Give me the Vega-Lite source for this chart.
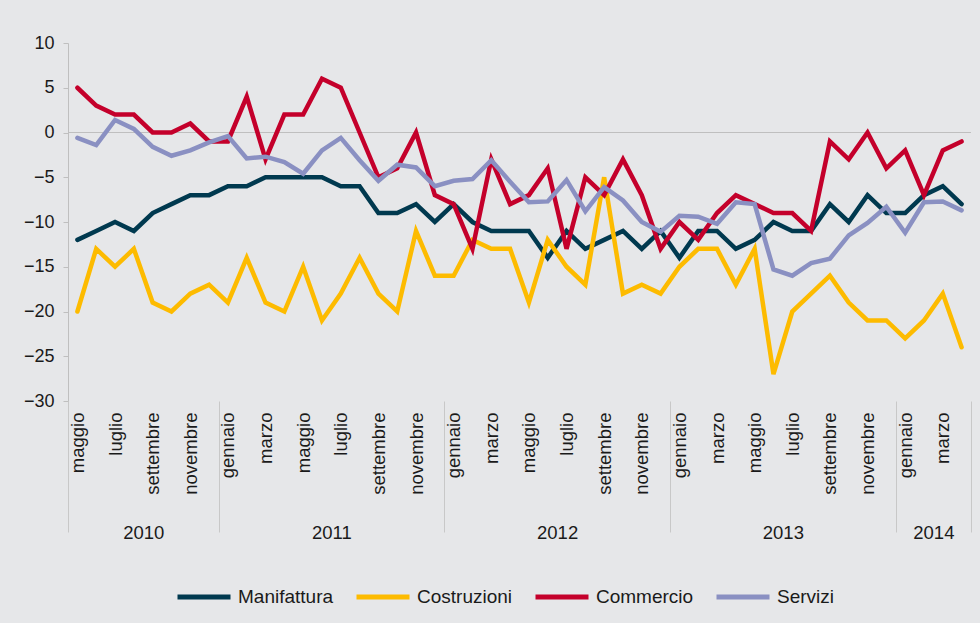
{
  "$schema": "https://vega.github.io/schema/vega-lite/v6.json",
  "width": 903,
  "height": 358,
  "autosize": "none",
  "padding": {"left": 68, "top": 43, "right": 9, "bottom": 222},
  "background": "#e6e7e9",
  "config": {
    "view": {"stroke": null},
    "font": "Liberation Sans",
    "axis": {"labelFont": "Liberation Sans", "labelColor": "#1a1a1a", "domainColor": "#bfbfbf", "tickColor": "#bfbfbf", "grid": false, "title": null}
  },
  "datasets": {
    "serie": [
      {"s":"Manifattura","n":0,"v":-12},{"s":"Manifattura","n":1,"v":-11},{"s":"Manifattura","n":2,"v":-10},{"s":"Manifattura","n":3,"v":-11},{"s":"Manifattura","n":4,"v":-9},{"s":"Manifattura","n":5,"v":-8},{"s":"Manifattura","n":6,"v":-7},{"s":"Manifattura","n":7,"v":-7},{"s":"Manifattura","n":8,"v":-6},{"s":"Manifattura","n":9,"v":-6},{"s":"Manifattura","n":10,"v":-5},{"s":"Manifattura","n":11,"v":-5},{"s":"Manifattura","n":12,"v":-5},{"s":"Manifattura","n":13,"v":-5},{"s":"Manifattura","n":14,"v":-6},{"s":"Manifattura","n":15,"v":-6},{"s":"Manifattura","n":16,"v":-9},{"s":"Manifattura","n":17,"v":-9},{"s":"Manifattura","n":18,"v":-8},{"s":"Manifattura","n":19,"v":-10},{"s":"Manifattura","n":20,"v":-8},{"s":"Manifattura","n":21,"v":-10},{"s":"Manifattura","n":22,"v":-11},{"s":"Manifattura","n":23,"v":-11},{"s":"Manifattura","n":24,"v":-11},{"s":"Manifattura","n":25,"v":-14},{"s":"Manifattura","n":26,"v":-11},{"s":"Manifattura","n":27,"v":-13},{"s":"Manifattura","n":28,"v":-12},{"s":"Manifattura","n":29,"v":-11},{"s":"Manifattura","n":30,"v":-13},{"s":"Manifattura","n":31,"v":-11},{"s":"Manifattura","n":32,"v":-14},{"s":"Manifattura","n":33,"v":-11},{"s":"Manifattura","n":34,"v":-11},{"s":"Manifattura","n":35,"v":-13},{"s":"Manifattura","n":36,"v":-12},{"s":"Manifattura","n":37,"v":-10},{"s":"Manifattura","n":38,"v":-11},{"s":"Manifattura","n":39,"v":-11},{"s":"Manifattura","n":40,"v":-8},{"s":"Manifattura","n":41,"v":-10},{"s":"Manifattura","n":42,"v":-7},{"s":"Manifattura","n":43,"v":-9},{"s":"Manifattura","n":44,"v":-9},{"s":"Manifattura","n":45,"v":-7},{"s":"Manifattura","n":46,"v":-6},{"s":"Manifattura","n":47,"v":-8},
      {"s":"Costruzioni","n":0,"v":-20},{"s":"Costruzioni","n":1,"v":-13},{"s":"Costruzioni","n":2,"v":-15},{"s":"Costruzioni","n":3,"v":-13},{"s":"Costruzioni","n":4,"v":-19},{"s":"Costruzioni","n":5,"v":-20},{"s":"Costruzioni","n":6,"v":-18},{"s":"Costruzioni","n":7,"v":-17},{"s":"Costruzioni","n":8,"v":-19},{"s":"Costruzioni","n":9,"v":-14},{"s":"Costruzioni","n":10,"v":-19},{"s":"Costruzioni","n":11,"v":-20},{"s":"Costruzioni","n":12,"v":-15},{"s":"Costruzioni","n":13,"v":-21},{"s":"Costruzioni","n":14,"v":-18},{"s":"Costruzioni","n":15,"v":-14},{"s":"Costruzioni","n":16,"v":-18},{"s":"Costruzioni","n":17,"v":-20},{"s":"Costruzioni","n":18,"v":-11},{"s":"Costruzioni","n":19,"v":-16},{"s":"Costruzioni","n":20,"v":-16},{"s":"Costruzioni","n":21,"v":-12},{"s":"Costruzioni","n":22,"v":-13},{"s":"Costruzioni","n":23,"v":-13},{"s":"Costruzioni","n":24,"v":-19},{"s":"Costruzioni","n":25,"v":-12},{"s":"Costruzioni","n":26,"v":-15},{"s":"Costruzioni","n":27,"v":-17},{"s":"Costruzioni","n":28,"v":-5},{"s":"Costruzioni","n":29,"v":-18},{"s":"Costruzioni","n":30,"v":-17},{"s":"Costruzioni","n":31,"v":-18},{"s":"Costruzioni","n":32,"v":-15},{"s":"Costruzioni","n":33,"v":-13},{"s":"Costruzioni","n":34,"v":-13},{"s":"Costruzioni","n":35,"v":-17},{"s":"Costruzioni","n":36,"v":-13},{"s":"Costruzioni","n":37,"v":-27},{"s":"Costruzioni","n":38,"v":-20},{"s":"Costruzioni","n":39,"v":-18},{"s":"Costruzioni","n":40,"v":-16},{"s":"Costruzioni","n":41,"v":-19},{"s":"Costruzioni","n":42,"v":-21},{"s":"Costruzioni","n":43,"v":-21},{"s":"Costruzioni","n":44,"v":-23},{"s":"Costruzioni","n":45,"v":-21},{"s":"Costruzioni","n":46,"v":-18},{"s":"Costruzioni","n":47,"v":-24},
      {"s":"Commercio","n":0,"v":5},{"s":"Commercio","n":1,"v":3},{"s":"Commercio","n":2,"v":2},{"s":"Commercio","n":3,"v":2},{"s":"Commercio","n":4,"v":0},{"s":"Commercio","n":5,"v":0},{"s":"Commercio","n":6,"v":1},{"s":"Commercio","n":7,"v":-1},{"s":"Commercio","n":8,"v":-1},{"s":"Commercio","n":9,"v":4},{"s":"Commercio","n":10,"v":-3},{"s":"Commercio","n":11,"v":2},{"s":"Commercio","n":12,"v":2},{"s":"Commercio","n":13,"v":6},{"s":"Commercio","n":14,"v":5},{"s":"Commercio","n":15,"v":0},{"s":"Commercio","n":16,"v":-5},{"s":"Commercio","n":17,"v":-4},{"s":"Commercio","n":18,"v":0},{"s":"Commercio","n":19,"v":-7},{"s":"Commercio","n":20,"v":-8},{"s":"Commercio","n":21,"v":-13},{"s":"Commercio","n":22,"v":-3},{"s":"Commercio","n":23,"v":-8},{"s":"Commercio","n":24,"v":-7},{"s":"Commercio","n":25,"v":-4},{"s":"Commercio","n":26,"v":-13},{"s":"Commercio","n":27,"v":-5},{"s":"Commercio","n":28,"v":-7},{"s":"Commercio","n":29,"v":-3},{"s":"Commercio","n":30,"v":-7},{"s":"Commercio","n":31,"v":-13},{"s":"Commercio","n":32,"v":-10},{"s":"Commercio","n":33,"v":-12},{"s":"Commercio","n":34,"v":-9},{"s":"Commercio","n":35,"v":-7},{"s":"Commercio","n":36,"v":-8},{"s":"Commercio","n":37,"v":-9},{"s":"Commercio","n":38,"v":-9},{"s":"Commercio","n":39,"v":-11},{"s":"Commercio","n":40,"v":-1},{"s":"Commercio","n":41,"v":-3},{"s":"Commercio","n":42,"v":0},{"s":"Commercio","n":43,"v":-4},{"s":"Commercio","n":44,"v":-2},{"s":"Commercio","n":45,"v":-7},{"s":"Commercio","n":46,"v":-2},{"s":"Commercio","n":47,"v":-1},
      {"s":"Servizi","n":0,"v":-0.6},{"s":"Servizi","n":1,"v":-1.4},{"s":"Servizi","n":2,"v":1.4},{"s":"Servizi","n":3,"v":0.4},{"s":"Servizi","n":4,"v":-1.6},{"s":"Servizi","n":5,"v":-2.6},{"s":"Servizi","n":6,"v":-2.0},{"s":"Servizi","n":7,"v":-1.1},{"s":"Servizi","n":8,"v":-0.4},{"s":"Servizi","n":9,"v":-2.9},{"s":"Servizi","n":10,"v":-2.7},{"s":"Servizi","n":11,"v":-3.3},{"s":"Servizi","n":12,"v":-4.6},{"s":"Servizi","n":13,"v":-2.0},{"s":"Servizi","n":14,"v":-0.6},{"s":"Servizi","n":15,"v":-3.1},{"s":"Servizi","n":16,"v":-5.4},{"s":"Servizi","n":17,"v":-3.6},{"s":"Servizi","n":18,"v":-3.9},{"s":"Servizi","n":19,"v":-6.0},{"s":"Servizi","n":20,"v":-5.4},{"s":"Servizi","n":21,"v":-5.2},{"s":"Servizi","n":22,"v":-3.1},{"s":"Servizi","n":23,"v":-5.5},{"s":"Servizi","n":24,"v":-7.8},{"s":"Servizi","n":25,"v":-7.7},{"s":"Servizi","n":26,"v":-5.3},{"s":"Servizi","n":27,"v":-8.8},{"s":"Servizi","n":28,"v":-6.1},{"s":"Servizi","n":29,"v":-7.6},{"s":"Servizi","n":30,"v":-10.0},{"s":"Servizi","n":31,"v":-11.1},{"s":"Servizi","n":32,"v":-9.3},{"s":"Servizi","n":33,"v":-9.4},{"s":"Servizi","n":34,"v":-10.2},{"s":"Servizi","n":35,"v":-7.8},{"s":"Servizi","n":36,"v":-8.0},{"s":"Servizi","n":37,"v":-15.3},{"s":"Servizi","n":38,"v":-16.0},{"s":"Servizi","n":39,"v":-14.6},{"s":"Servizi","n":40,"v":-14.1},{"s":"Servizi","n":41,"v":-11.5},{"s":"Servizi","n":42,"v":-10.1},{"s":"Servizi","n":43,"v":-8.3},{"s":"Servizi","n":44,"v":-11.2},{"s":"Servizi","n":45,"v":-7.8},{"s":"Servizi","n":46,"v":-7.7},{"s":"Servizi","n":47,"v":-8.7}
    ]
  },
  "layer": [
    {
      "data": {"values": [{"v": 0}]},
      "mark": {"type": "rule", "color": "#bfbfbf", "strokeWidth": 1},
      "encoding": {
        "y": {"field": "v", "type": "quantitative", "scale": {"domain": [-30, 10]}}
      }
    },
    {
      "data": {"name": "serie"},
      "mark": {"type": "line", "strokeWidth": 4.5, "strokeJoin": "miter", "strokeCap": "round"},
      "encoding": {
        "x": {
          "field": "n", "type": "quantitative",
          "scale": {"domain": [-0.5, 47.5], "nice": false, "zero": false},
          "axis": {
            "orient": "bottom",
            "values": [0,2,4,6,8,10,12,14,16,18,20,22,24,26,28,30,32,34,36,38,40,42,44,46],
            "labelExpr": "['gennaio','febbraio','marzo','aprile','maggio','giugno','luglio','agosto','settembre','ottobre','novembre','dicembre'][(datum.value + 4) % 12]",
            "labelAngle": 270, "labelAlign": "right", "labelBaseline": "middle",
            "labelFontSize": 18.5, "labelPadding": 11, "ticks": false, "domain": false,
            "labelOverlap": false, "labelFlush": false
          }
        },
        "y": {
          "field": "v", "type": "quantitative",
          "scale": {"domain": [-30, 10], "nice": false},
          "axis": {
            "values": [-30,-25,-20,-15,-10,-5,0,5,10],
            "tickSize": 5, "labelFontSize": 18, "labelPadding": 9, "domainColor": "#bfbfbf"
          }
        },
        "color": {
          "field": "s", "type": "nominal",
          "scale": {"domain": ["Manifattura", "Costruzioni", "Commercio", "Servizi"], "range": ["#00394f", "#fdbb00", "#c4002b", "#8a90c2"]},
          "legend": {
            "title": null, "orient": "none", "direction": "horizontal",
            "legendX": 107, "legendY": 525,
            "symbolType": "stroke", "symbolSize": 2809, "symbolStrokeWidth": 5,
            "labelFontSize": 19, "labelFont": "Liberation Sans", "labelColor": "#1a1a1a",
            "labelOffset": 5, "columnPadding": 12, "padding": 0
          }
        },
        "order": {"field": "n", "type": "quantitative"}
      }
    },
    {
      "data": {"values": [{"n": 0}]},
      "mark": {"type": "point", "opacity": 0},
      "encoding": {
        "x": {
          "field": "n", "type": "quantitative",
          "axis": {
            "orient": "bottom",
            "values": [-0.5, 7.5, 19.5, 31.5, 43.5, 47.5],
            "labels": false, "domain": false, "tickSize": 131, "tickColor": "#c8c8c8", "tickWidth": 1
          }
        }
      }
    },
    {
      "data": {"values": [{"n": 0}]},
      "mark": {"type": "point", "opacity": 0},
      "encoding": {
        "x": {
          "field": "n", "type": "quantitative",
          "axis": {
            "orient": "bottom",
            "values": [3.5, 13.5, 25.5, 37.5, 45.5],
            "labelExpr": "datum.value < 5 ? '2010' : datum.value < 15 ? '2011' : datum.value < 30 ? '2012' : datum.value < 40 ? '2013' : '2014'",
            "ticks": false, "domain": false, "labelFontSize": 18.5, "labelPadding": 122,
            "labelOverlap": false, "labelFlush": false
          }
        }
      }
    }
  ],
  "resolve": {"axis": {"x": "independent"}}
}
